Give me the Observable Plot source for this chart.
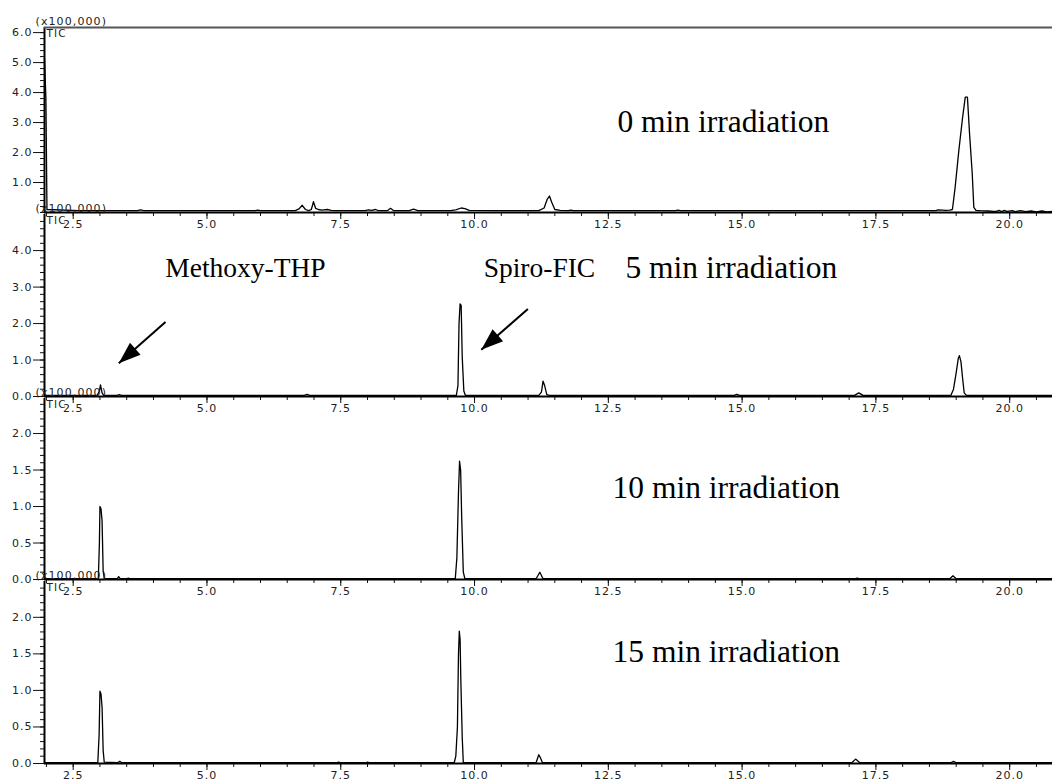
<!DOCTYPE html>
<html>
<head>
<meta charset="utf-8">
<script src="https://cdn.jsdelivr.net/npm/d3@7"></script>
<script src="https://cdn.jsdelivr.net/npm/@observablehq/plot@0.6"></script>
<style>
  html, body { margin: 0; padding: 0; background: #ffffff; }
  #chart { position: relative; width: 1052px; height: 782px; overflow: hidden; background: #fff; }
  #chart svg { position: absolute; left: 0; overflow: visible; background: transparent; }
</style>
</head>
<body>
<div id="chart"></div>
<script>
// ---------------- DATA ----------------
// Retention time (min) and TIC intensity (x100,000) for each irradiation time
const trace0min = [
  [1.964, 5.15], [1.99, 3.8], [2.01, 0.1], [2.6, 0.06], [3.7, 0.06], [3.76, 0.09], [3.82, 0.06],
  [5.0, 0.06], [5.9, 0.06], [5.95, 0.08], [6.0, 0.06], [6.65, 0.06], [6.72, 0.12], [6.78, 0.24],
  [6.84, 0.1], [6.9, 0.06], [6.95, 0.1], [6.99, 0.36], [7.03, 0.14], [7.08, 0.1], [7.15, 0.08],
  [7.25, 0.1], [7.32, 0.07], [7.4, 0.06], [7.95, 0.06], [8.02, 0.09], [8.08, 0.07], [8.15, 0.1],
  [8.2, 0.06], [8.37, 0.06], [8.43, 0.14], [8.49, 0.06], [8.78, 0.06], [8.86, 0.11], [8.94, 0.06],
  [9.55, 0.06], [9.65, 0.09], [9.75, 0.15], [9.82, 0.13], [9.9, 0.07], [10.5, 0.06], [11.2, 0.06],
  [11.3, 0.15], [11.36, 0.45], [11.4, 0.55], [11.44, 0.35], [11.5, 0.1], [11.6, 0.07], [11.75, 0.06],
  [11.8, 0.08], [11.85, 0.06], [12.5, 0.06], [13.75, 0.06], [13.8, 0.08], [13.85, 0.06], [15.0, 0.06],
  [16.5, 0.06], [18.55, 0.06], [18.62, 0.06], [18.66, 0.09], [18.75, 0.08], [18.8, 0.07], [18.88, 0.08],
  [18.93, 0.1], [18.98, 0.83], [19.05, 2.07], [19.12, 3.17], [19.17, 3.85], [19.21, 3.85], [19.25, 2.63],
  [19.30, 1.3], [19.33, 0.17], [19.37, 0.07], [19.45, 0.06], [19.6, 0.05], [19.7, 0.04], [19.75, 0.04],
  [19.8, 0.07], [19.85, 0.03], [19.9, 0.07], [19.95, 0.04], [20.05, 0.06], [20.1, 0.03], [20.2, 0.06],
  [20.3, 0.03], [20.4, 0.05], [20.5, 0.02], [20.6, 0.05], [20.7, 0.02], [20.8, 0.04]
];
const trace5min = [
  [1.964, 0.03], [2.95, 0.03], [2.99, 0.15], [3.01, 0.32], [3.04, 0.1], [3.07, 0.03], [3.32, 0.03],
  [3.36, 0.05], [3.4, 0.03], [6.82, 0.03], [6.87, 0.06], [6.92, 0.03], [9.66, 0.03], [9.69, 0.3],
  [9.71, 2.0], [9.73, 2.54], [9.75, 2.5], [9.77, 1.08], [9.80, 0.15], [9.83, 0.03], [11.2, 0.03],
  [11.25, 0.12], [11.28, 0.42], [11.31, 0.3], [11.35, 0.05], [11.4, 0.03], [14.85, 0.03], [14.9, 0.06],
  [14.95, 0.03], [17.1, 0.03], [17.18, 0.1], [17.26, 0.03], [18.9, 0.03], [18.95, 0.2], [19.0, 0.65],
  [19.04, 1.05], [19.06, 1.12], [19.09, 0.95], [19.12, 0.5], [19.15, 0.1], [19.19, 0.03], [20.8, 0.03]
];
const trace10min = [
  [1.964, 0.01], [2.97, 0.01], [2.99, 0.5], [3.0, 1.0], [3.02, 0.97], [3.04, 0.8], [3.06, 0.12],
  [3.08, 0.02], [3.1, 0.01], [3.32, 0.01], [3.35, 0.04], [3.38, 0.01], [3.5, 0.01], [3.53, 0.02],
  [3.56, 0.01], [9.64, 0.01], [9.67, 0.3], [9.70, 1.2], [9.72, 1.62], [9.74, 1.5], [9.76, 0.85],
  [9.79, 0.1], [9.82, 0.01], [11.15, 0.01], [11.22, 0.1], [11.28, 0.01], [17.1, 0.01], [17.15, 0.02],
  [17.2, 0.01], [18.88, 0.01], [18.94, 0.05], [19.0, 0.01], [20.8, 0.01]
];
const trace15min = [
  [1.964, 0.01], [2.96, 0.01], [2.985, 0.4], [3.0, 0.99], [3.02, 0.95], [3.04, 0.77], [3.06, 0.18],
  [3.08, 0.02], [3.33, 0.01], [3.37, 0.03], [3.41, 0.01], [7.42, 0.01], [7.46, 0.02], [7.5, 0.01],
  [7.96, 0.01], [8.0, 0.02], [8.04, 0.01], [9.62, 0.01], [9.65, 0.1], [9.68, 0.5], [9.70, 1.5],
  [9.715, 1.81], [9.73, 1.7], [9.745, 1.1], [9.77, 0.36], [9.79, 0.01], [11.15, 0.01], [11.2, 0.12],
  [11.23, 0.08], [11.27, 0.01], [17.05, 0.01], [17.12, 0.06], [17.2, 0.01], [18.9, 0.01], [18.95, 0.03],
  [19.0, 0.01], [20.8, 0.01]
];

const panelTitles = ["0 min irradiation", "5 min irradiation", "10 min irradiation", "15 min irradiation"];
const compoundNames = ["Methoxy-THP", "Spiro-FIC"];
const scaleNote = "(x100,000)";
const ticLabel = "TIC";

const xTickValues = [2.5, 5.0, 7.5, 10.0, 12.5, 15.0, 17.5, 20.0];
const yTicks0 = [1, 2, 3, 4, 5, 6];
const yTicks5 = [0, 1, 2, 3, 4];
const yTicks10 = [0, 0.5, 1, 1.5, 2];
const yTicks15 = [0, 0.5, 1, 1.5, 2];

// ---------------- LAYOUT ----------------
const W = 1052, ML = 44, MR = 0, MT = 20, MB = 22;
const X_DOMAIN = [1.964, 20.80];
const xMinor = d3.range(2.0, 20.51, 0.5);

const panels = [
  {trace: trace0min,  ymax: 6.17, top: 27,  axis: 212, major: yTicks0,  minorStep: 0.2, frameLine: true,
   title: {t: 12.67, v: 3.03}},
  {trace: trace5min,  ymax: 4.99, top: 214, axis: 396, major: yTicks5,  minorStep: 0.2, frameLine: false,
   title: {t: 12.82, v: 3.53},
   compounds: [{name: compoundNames[0], t: 4.22, v: 3.53}, {name: compoundNames[1], t: 10.17, v: 3.53}],
   arrows: [{x1: 4.225, y1: 2.04, x2: 3.352, y2: 0.91}, {x1: 10.997, y1: 2.40, x2: 10.126, y2: 1.28}]},
  {trace: trace10min, ymax: 2.48, top: 398, axis: 579, major: yTicks10, minorStep: 0.1, frameLine: false,
   title: {t: 12.58, v: 1.26}},
  {trace: trace15min, ymax: 2.49, top: 581, axis: 763, major: yTicks15, minorStep: 0.1, frameLine: false,
   title: {t: 12.58, v: 1.52}}
];

const arrowHead = {
  draw(ctx) {
    ctx.moveTo(0, 0);
    ctx.lineTo(-8, 22);
    ctx.lineTo(8, 22);
    ctx.closePath();
  }
};

const fmt = d3.format(".1f");
const chart = document.getElementById("chart");

panels.forEach((p, i) => {
  const h = p.axis - p.top + MT + MB;
  const data = p.trace.map(([t, v]) => ({t, v}));
  const yMinor = d3.range(0, p.ymax + 1e-9, p.minorStep).map(d => +d.toFixed(2)).filter(d => d <= p.ymax);
  const xs = d3.scaleLinear(X_DOMAIN, [ML, W - MR]);
  const ys = d3.scaleLinear([0, p.ymax], [h - MB, MT]);

  const marks = [
    Plot.axisY(yMinor, {tickSize: 4, tickFormat: () => "", label: null}),
    Plot.axisY(p.major, {tickSize: 11, tickPadding: 1, tickFormat: fmt, label: null}),
    Plot.axisX(xMinor, {tickSize: 4, tickFormat: () => "", label: null}),
    Plot.axisX(xTickValues, {tickSize: 7, tickPadding: 1, tickFormat: fmt, label: null}),
    Plot.line(data, {x: "t", y: "v", stroke: "#000", strokeWidth: 1.3}),
    Plot.ruleX([X_DOMAIN[0]], {stroke: "#000", strokeWidth: 2}),
    Plot.ruleY([0], {stroke: "#000", strokeWidth: 2}),
    Plot.text([scaleNote], {text: d => d, frameAnchor: "top-left", textAnchor: "start", lineAnchor: "bottom",
      dx: -9, dy: -3, fill: "#222", fontSize: 11}),
    Plot.text([ticLabel], {text: d => d, frameAnchor: "top-left", textAnchor: "start", lineAnchor: "top",
      dx: 2, dy: 2, fill: "#222", fontSize: 10.5}),
    Plot.text([{label: panelTitles[i], t: p.title.t, v: p.title.v}], {x: "t", y: "v", text: "label",
      textAnchor: "start", lineAnchor: "middle", fontFamily: "Liberation Serif", fontSize: 31.5, fill: "#000"})
  ];
  if (p.frameLine) marks.push(Plot.ruleY([p.ymax], {stroke: "#555", strokeWidth: 2}));
  if (p.compounds) {
    marks.push(Plot.text(p.compounds, {x: "t", y: "v", text: "name", textAnchor: "start", lineAnchor: "middle",
      fontFamily: "Liberation Serif", fontSize: 27.5, fill: "#000"}));
  }
  if (p.arrows) {
    const arr = p.arrows.map(a => {
      const dx = xs(a.x2) - xs(a.x1), dy = ys(a.y2) - ys(a.y1);
      return {...a, angle: Math.atan2(dx, -dy) * 180 / Math.PI};
    });
    marks.push(Plot.link(arr, {x1: "x1", y1: "y1", x2: "x2", y2: "y2", stroke: "#000", strokeWidth: 2}));
    marks.push(Plot.dot(arr, {x: "x2", y: "y2", symbol: arrowHead, rotate: "angle", r: 5, fill: "#000", stroke: "none"}));
  }

  const svg = Plot.plot({
    width: W,
    height: h,
    marginLeft: ML,
    marginRight: MR,
    marginTop: MT,
    marginBottom: MB,
    x: {domain: X_DOMAIN},
    y: {domain: [0, p.ymax]},
    style: {background: "transparent", overflow: "visible", fontFamily: "DejaVu Sans", fontSize: "11px", color: "#111"},
    marks
  });
  svg.style.top = (p.top - MT) + "px";
  d3.select(svg).selectAll('g[aria-label="x-axis tick label"] text, g[aria-label="y-axis tick label"] text')
    .style("letter-spacing", "1px").attr("fill", "#222");
  d3.select(svg).selectAll('g[aria-label="text"] text')
    .filter(function() { return this.textContent === scaleNote || this.textContent === ticLabel; })
    .style("letter-spacing", "1.1px");
  chart.appendChild(svg);
});
</script>
</body>
</html>
